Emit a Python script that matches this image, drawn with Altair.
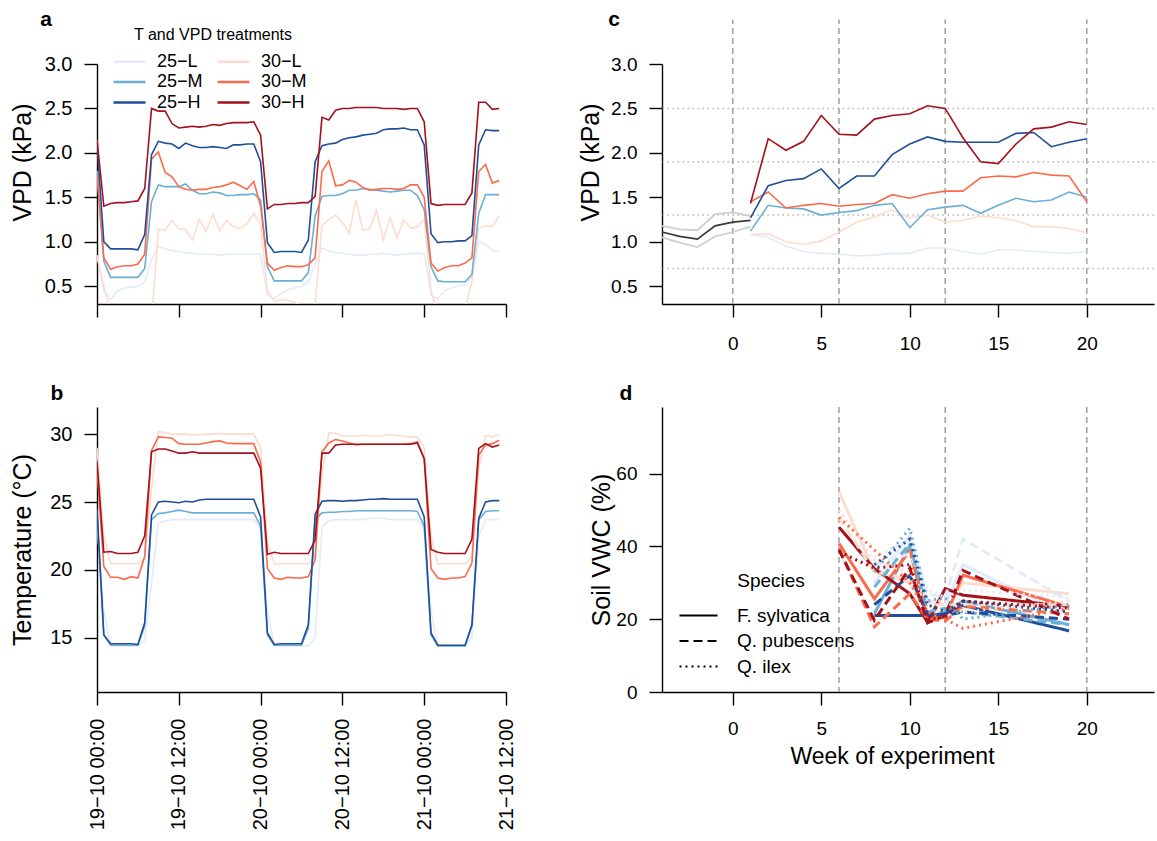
import altair as alt
import pandas as pd

FONT = "Liberation Sans"

# ---------------- shared categories ----------------
treatments = ["25−L", "25−M", "25−H", "30−L", "30−M", "30−H"]          # legend order
treatment_colors = ["#E3EBF8", "#6BAED6", "#1F4E9A", "#FDDCCD", "#FB6A4A", "#A3111A"]
draw_order = ["25−L", "30−L", "25−M", "30−M", "25−H", "30−H"]           # pale lines first
species = ["F. sylvatica", "Q. pubescens", "Q. ilex"]

# ---------------- panels a and b: hourly series ----------------
hours = list(range(60))
hour_ticks = [0, 12, 24, 36, 48, 60]
hour_tick_labels = ["19−10 00:00", "19−10 12:00", "20−10 00:00",
                    "20−10 12:00", "21−10 00:00", "21−10 12:00"]

vpd_25L = [0.85, 0.45, 0.35, 0.45, 0.48, 0.49, 0.50, 0.55, 0.80, 0.95, 0.92, 0.90, 0.89, 0.88, 0.87,
           0.86, 0.86, 0.86, 0.85, 0.86, 0.86, 0.86, 0.86, 0.86, 0.86, 0.40, 0.36, 0.42, 0.46, 0.48,
           0.50, 0.55, 0.75, 0.93, 0.90, 0.88, 0.87, 0.86, 0.85, 0.85, 0.86, 0.86, 0.87, 0.86, 0.85,
           0.86, 0.87, 0.87, 0.86, 0.40, 0.36, 0.45, 0.48, 0.50, 0.52, 0.60, 1.00, 0.97, 0.90, 0.89]
vpd_30L = [0.85, 0.50, 0.20, 0.20, 0.20, 0.20, 0.20, 0.15, 0.10, 1.14, 1.13, 1.24, 1.15, 1.14, 1.02,
           1.25, 1.12, 1.31, 1.12, 1.24, 1.17, 1.15, 1.20, 1.32, 1.20, 0.45, 0.33, 0.35, 0.34, 0.32,
           0.28, 0.20, 0.30, 1.18, 1.25, 1.30, 1.22, 1.10, 1.47, 1.13, 1.14, 1.35, 1.02, 1.27, 1.04,
           1.25, 1.15, 1.17, 1.25, 0.45, 0.20, 0.20, 0.20, 0.20, 0.25, 0.55, 1.15, 1.18, 1.17, 1.29]
vpd_25M = [1.80, 0.78, 0.60, 0.60, 0.60, 0.60, 0.60, 0.70, 1.45, 1.64, 1.62, 1.62, 1.62, 1.65, 1.58,
           1.54, 1.54, 1.56, 1.55, 1.52, 1.52, 1.53, 1.53, 1.54, 1.47, 0.72, 0.56, 0.56, 0.56, 0.56,
           0.56, 0.65, 1.29, 1.51, 1.52, 1.52, 1.54, 1.58, 1.58, 1.60, 1.59, 1.58, 1.57, 1.56, 1.57,
           1.58, 1.58, 1.52, 1.36, 0.72, 0.56, 0.55, 0.55, 0.55, 0.55, 0.63, 1.32, 1.53, 1.53, 1.53]
vpd_30M = [1.75, 0.82, 0.69, 0.72, 0.73, 0.73, 0.75, 0.86, 1.93, 2.01, 1.78, 1.73, 1.62, 1.59, 1.58,
           1.59, 1.59, 1.61, 1.62, 1.64, 1.67, 1.63, 1.59, 1.68, 1.40, 0.76, 0.68, 0.71, 0.73, 0.72,
           0.72, 0.74, 0.82, 1.79, 1.91, 1.63, 1.64, 1.69, 1.67, 1.61, 1.58, 1.59, 1.60, 1.60, 1.59,
           1.60, 1.64, 1.64, 1.50, 0.76, 0.67, 0.71, 0.73, 0.73, 0.76, 0.82, 1.79, 1.87, 1.66, 1.69]
vpd_25H = [2.10, 1.00, 0.92, 0.92, 0.92, 0.92, 0.91, 1.08, 1.98, 2.13, 2.11, 2.10, 2.05, 2.11, 2.08,
           2.06, 2.06, 2.07, 2.06, 2.05, 2.09, 2.09, 2.10, 2.10, 1.90, 0.99, 0.88, 0.89, 0.89, 0.89,
           0.88, 1.02, 1.90, 2.08, 2.10, 2.11, 2.15, 2.17, 2.18, 2.20, 2.21, 2.22, 2.26, 2.27, 2.27,
           2.28, 2.26, 2.26, 2.09, 1.09, 0.99, 1.00, 1.00, 1.01, 1.01, 1.07, 2.09, 2.26, 2.25, 2.25]
vpd_30H = [2.15, 1.40, 1.43, 1.44, 1.44, 1.45, 1.46, 1.60, 2.50, 2.47, 2.47, 2.33, 2.28, 2.29, 2.30,
           2.29, 2.30, 2.32, 2.31, 2.33, 2.34, 2.34, 2.34, 2.35, 2.20, 1.37, 1.42, 1.42, 1.43, 1.43,
           1.44, 1.44, 1.51, 2.40, 2.37, 2.48, 2.50, 2.50, 2.51, 2.51, 2.51, 2.51, 2.50, 2.50, 2.50,
           2.49, 2.50, 2.50, 2.35, 1.43, 1.41, 1.42, 1.42, 1.42, 1.42, 1.55, 2.57, 2.57, 2.49, 2.50]

temp_25L = [23.5, 17.0, 14.4, 14.4, 14.4, 14.4, 14.4, 14.8, 19.0, 23.5, 23.6, 23.7, 23.7, 23.7, 23.7,
            23.7, 23.7, 23.7, 23.7, 23.7, 23.7, 23.7, 23.7, 23.7, 23.0, 17.0, 14.4, 14.4, 14.4, 14.4,
            14.4, 14.4, 15.0, 23.2, 23.6, 23.7, 23.7, 23.7, 23.7, 23.7, 23.8, 23.8, 23.8, 23.7, 23.7,
            23.7, 23.7, 23.7, 23.0, 17.0, 14.4, 14.4, 14.4, 14.4, 14.4, 15.0, 22.5, 23.7, 23.7, 23.7]
temp_30L = [29.0, 22.5, 20.45, 20.45, 20.45, 20.45, 20.45, 20.8, 26.0, 30.2, 30.1, 30.0, 30.0, 30.0, 29.95,
            29.95, 30.0, 30.0, 30.05, 30.0, 30.0, 30.0, 30.0, 30.0, 29.0, 22.0, 20.45, 20.45, 20.45, 20.45,
            20.45, 20.45, 21.0, 27.0, 30.1, 30.05, 29.9, 29.85, 29.85, 29.9, 29.9, 29.85, 29.9, 29.95, 29.9,
            29.85, 29.8, 29.8, 29.0, 22.5, 20.45, 20.45, 20.45, 20.45, 20.45, 21.0, 27.5, 29.9, 29.8, 30.0]
temp_25M = [24.0, 15.2, 14.45, 14.45, 14.45, 14.45, 14.45, 15.85, 23.7, 24.15, 24.2, 24.3, 24.4, 24.3, 24.2,
            24.2, 24.2, 24.2, 24.2, 24.2, 24.2, 24.2, 24.2, 24.2, 23.2, 15.2, 14.45, 14.45, 14.45, 14.45,
            14.45, 15.7, 23.7, 24.2, 24.25, 24.25, 24.3, 24.3, 24.35, 24.35, 24.35, 24.35, 24.35, 24.35, 24.35,
            24.35, 24.35, 24.3, 23.2, 15.2, 14.4, 14.4, 14.4, 14.4, 14.4, 15.85, 23.7, 24.3, 24.35, 24.35]
temp_30M = [27.5, 20.25, 19.45, 19.45, 19.3, 19.5, 19.4, 21.0, 28.8, 29.8, 29.75, 29.7, 29.3, 29.25, 29.25,
            29.25, 29.35, 29.45, 29.5, 29.35, 29.3, 29.3, 29.3, 29.3, 27.95, 20.1, 19.4, 19.3, 19.45, 19.4,
            19.4, 19.5, 20.75, 28.7, 29.35, 29.6, 29.5, 29.35, 29.2, 29.25, 29.25, 29.25, 29.25, 29.25, 29.25,
            29.25, 29.3, 29.45, 28.2, 20.1, 19.4, 19.3, 19.4, 19.4, 19.5, 20.5, 28.45, 29.2, 29.3, 29.55]
temp_25H = [24.5, 15.2, 14.55, 14.55, 14.55, 14.55, 14.5, 16.1, 24.05, 25.0, 25.05, 25.0, 24.95, 25.05, 25.0,
            25.15, 25.2, 25.2, 25.2, 25.2, 25.2, 25.2, 25.2, 25.2, 23.9, 15.35, 14.5, 14.55, 14.55, 14.55,
            14.55, 15.95, 24.1, 25.05, 25.1, 25.1, 25.05, 25.1, 25.1, 25.15, 25.2, 25.2, 25.25, 25.2, 25.2,
            25.2, 25.2, 25.2, 23.9, 15.35, 14.45, 14.45, 14.45, 14.45, 14.45, 15.95, 23.8, 25.0, 25.1, 25.1]
temp_30H = [28.0, 21.3, 21.35, 21.2, 21.2, 21.2, 21.3, 22.5, 28.7, 28.9, 28.9, 28.75, 28.6, 28.6, 28.7,
            28.6, 28.6, 28.6, 28.6, 28.6, 28.6, 28.6, 28.6, 28.6, 27.5, 21.15, 21.3, 21.2, 21.2, 21.2,
            21.2, 21.2, 22.2, 28.6, 28.6, 29.2, 29.25, 29.25, 29.25, 29.25, 29.25, 29.25, 29.25, 29.25, 29.25,
            29.25, 29.25, 29.35, 28.2, 21.5, 21.3, 21.2, 21.2, 21.2, 21.2, 22.25, 28.95, 29.3, 29.05, 29.2]

# ---------------- panel c: weekly VPD ----------------
weeks_pre = [-4, -3, -2, -1, 0, 1]
pre_mean = [1.11, 1.06, 1.03, 1.18, 1.22, 1.24]
pre_high = [1.18, 1.14, 1.13, 1.31, 1.33, 1.29]
pre_low = [1.05, 0.99, 0.94, 1.06, 1.11, 1.17]

weeks_trt = list(range(1, 21))
week_vpd_25L = [1.08, 1.05, 0.95, 0.89, 0.87, 0.86, 0.84, 0.85, 0.87, 0.87, 0.93, 0.93, 0.89, 0.86, 0.91, 0.91, 0.89, 0.88, 0.87, 0.89]
week_vpd_30L = [1.08, 1.09, 1.00, 0.97, 1.01, 1.11, 1.22, 1.28, 1.36, 1.27, 1.30, 1.22, 1.24, 1.29, 1.27, 1.24, 1.17, 1.17, 1.15, 1.10]
week_vpd_25M = [1.12, 1.41, 1.38, 1.37, 1.30, 1.33, 1.35, 1.41, 1.43, 1.16, 1.36, 1.39, 1.41, 1.32, 1.41, 1.49, 1.45, 1.47, 1.56, 1.50]
week_vpd_30M = [1.45, 1.56, 1.38, 1.41, 1.43, 1.40, 1.42, 1.43, 1.53, 1.49, 1.54, 1.57, 1.57, 1.72, 1.74, 1.73, 1.78, 1.75, 1.74, 1.45]
week_vpd_25H = [1.27, 1.63, 1.69, 1.71, 1.82, 1.60, 1.74, 1.74, 1.98, 2.10, 2.18, 2.13, 2.12, 2.12, 2.12, 2.22, 2.23, 2.07, 2.12, 2.16]
week_vpd_30H = [1.43, 2.16, 2.03, 2.13, 2.42, 2.21, 2.20, 2.38, 2.42, 2.44, 2.53, 2.50, 2.17, 1.90, 1.88, 2.10, 2.27, 2.29, 2.35, 2.32]

vpd_targets = [0.7, 1.3, 1.9, 2.5]
phase_weeks_c = [0, 6, 12, 20]
phase_weeks_d = [6, 12, 20]
phase_span_c = [0.3, 3.5]   # VPD extent of the phase markers in panel c
week_ticks = [0, 5, 10, 15, 20]

# ---------------- panel d: soil VWC ----------------
weeks_vwc = [6, 8, 10, 11, 12, 13, 19]
vwc_fsylvatica = {
    "25−L": [None, 30, 43, 25, 24, 35, 21],
    "30−L": [55, 33, 30, 22, 22, 30, 27],
    "25−M": [None, 21.5, 40.3, 20, 22, 25, 18.5],
    "30−M": [40.8, 25.6, 38.9, 20.6, 20.4, 32.1, 23.4],
    "25−H": [None, 21.0, 21.0, 21.0, 21.5, 23.8, 16.8],
    "30−H": [45.3, 33.9, 27.0, 19.2, 28.4, 26.6, 23.5],
}
vwc_qpubescens = {
    "25−L": [None, 35, 38, 27, 26, 42, 25],
    "30−L": [48, 33, 31, 24, 24, 24, 24],
    "25−M": [None, 28.8, 40.8, 22, 23, 22, 18.5],
    "30−M": [39.4, 17.9, 27, 20, 19.5, 23.5, 21.5],
    "25−H": [None, 24, 32, 21.5, 21, 22, 20],
    "30−H": [39, 19.7, 34, 19, 21, 33.4, 20],
}
vwc_qilex = {
    "25−L": [None, 37, 42, 28, 26, 28, 26],
    "30−L": [50, 36, 33, 25, 25, 22, 25],
    "25−M": [None, 33, 45, 25, 26, 20, 24],
    "30−M": [48, 39, 30, 22, 20, 17.5, 23],
    "25−H": [None, 35, 42, 24, 22, 25, 22],
    "30−H": [38.5, 34, 35, 20, 20.5, 25, 23],
}

# ---------------- build tables ----------------
def hourly_table(series, name):
    rows = []
    for t in draw_order:
        vals = series[t]
        assert len(vals) == len(hours)
        for h, v in zip(hours, vals):
            rows.append({"hour": h, name: v, "treatment": t})
    return pd.DataFrame(rows)

df_a = hourly_table({"25−L": vpd_25L, "30−L": vpd_30L, "25−M": vpd_25M,
                     "30−M": vpd_30M, "25−H": vpd_25H, "30−H": vpd_30H}, "vpd")
df_b = hourly_table({"25−L": temp_25L, "30−L": temp_30L, "25−M": temp_25M,
                     "30−M": temp_30M, "25−H": temp_25H, "30−H": temp_30H}, "temp")

weekly = {"25−L": week_vpd_25L, "30−L": week_vpd_30L, "25−M": week_vpd_25M,
          "30−M": week_vpd_30M, "25−H": week_vpd_25H, "30−H": week_vpd_30H}
rows = []
for t in draw_order:
    for w, v in zip(weeks_trt, weekly[t]):
        rows.append({"week": w, "vpd": v, "treatment": t})
df_c = pd.DataFrame(rows)

rows = []
for lab, vals in [("low", pre_low), ("high", pre_high), ("mean", pre_mean)]:
    for w, v in zip(weeks_pre, vals):
        rows.append({"week": w, "vpd": v, "band": lab})
df_pre = pd.DataFrame(rows)

df_targets = pd.DataFrame({"vpd": vpd_targets})
df_phase_c = pd.DataFrame({"week": phase_weeks_c, "lo": phase_span_c[0], "hi": phase_span_c[1]})
df_phase_d = pd.DataFrame({"week": phase_weeks_d})

rows = []
for sp, table in zip(species, [vwc_fsylvatica, vwc_qpubescens, vwc_qilex]):
    for t in draw_order:
        for w, v in zip(weeks_vwc, table[t]):
            if v is not None:
                rows.append({"week": w, "vwc": v, "treatment": t, "species": sp})
df_d = pd.DataFrame(rows)

# ---------------- shared encodings ----------------
color_scale = alt.Scale(domain=treatments, range=treatment_colors)
label_expr = "[" + ",".join("'" + s + "'" for s in hour_tick_labels) + "][round(datum.value/12)]"
LEGEND_LINE = "M-2,0H2"   # long, flat legend key (keeps rows compact)


def letter(ch, dx, dy):
    return alt.Chart(pd.DataFrame({"panel": [ch]})).mark_text(
        font=FONT, fontSize=21, fontWeight="bold", align="center", baseline="middle", color="black"
    ).encode(text="panel:N", x=alt.value(dx), y=alt.value(dy))


vpd_values = [0.5, 1.0, 1.5, 2.0, 2.5, 3.0]

# ---------------- panel a ----------------
xa = alt.X("hour:Q", scale=alt.Scale(domain=[0, 60], nice=False, zero=False),
           axis=alt.Axis(values=hour_ticks, labels=False, title=None))
ya = alt.Y("vpd:Q", scale=alt.Scale(domain=[0.3, 3.0], nice=False, zero=False),
           axis=alt.Axis(values=vpd_values, format=".1f", title="VPD (kPa)", titleX=-75, titleY=98,
                         titleAngle=270, titleAlign="center", titleBaseline="middle",
                         labelPadding=12))
lines_a = alt.Chart(df_a).mark_line(strokeWidth=1.6, clip=True).encode(
    x=xa, y=ya,
    color=alt.Color("treatment:N", scale=color_scale,
                    legend=alt.Legend(title="T and VPD treatments", orient="none", legendX=23, legendY=-37,
                                      columns=2, columnPadding=9, rowPadding=1.5, symbolType=LEGEND_LINE,
                                      symbolSize=256, symbolStrokeWidth=2.5, labelFontSize=18,
                                      titleFontSize=16, titleFontWeight="normal", titleAnchor="middle",
                                      titlePadding=9, labelOffset=18, padding=0)),
)
panel_a = alt.layer(lines_a, letter("a", -51, -44)).properties(width=409, height=240)

# ---------------- panel b ----------------
xb = alt.X("hour:Q", scale=alt.Scale(domain=[0, 60], nice=False, zero=False),
           axis=alt.Axis(values=hour_ticks, labelExpr=label_expr, labelAngle=270, labelAlign="right",
                         labelBaseline="middle", labelPadding=13, title=None))
yb = alt.Y("temp:Q", scale=alt.Scale(domain=[11, 32], nice=False, zero=False),
           axis=alt.Axis(values=[15, 20, 25, 30], title="Temperature (°C)", titleX=-75, titleY=142.5,
                         titleAngle=270, titleAlign="center", titleBaseline="middle", labelPadding=12))
lines_b = alt.Chart(df_b).mark_line(strokeWidth=1.6, clip=True).encode(
    x=xb, y=yb, color=alt.Color("treatment:N", scale=color_scale, legend=None))
panel_b = alt.layer(lines_b, letter("b", -40, -13)).properties(width=409, height=285)

# ---------------- panel c ----------------
W2 = 492
week_domain = [-4, -4 + W2 / 17.7]
xc = alt.X("week:Q", scale=alt.Scale(domain=week_domain, nice=False, zero=False),
           axis=alt.Axis(values=week_ticks, title=None, labelPadding=17, labelFontSize=19))


def vpd_axis():
    return alt.Axis(values=vpd_values, format=".1f", title="VPD (kPa)", titleX=-72, titleY=98,
                    titleAngle=270, titleAlign="center", titleBaseline="middle",
                    labelPadding=12, labelFontSize=19)


vpd_scale_c = alt.Scale(domain=[0.3, 3.0], nice=False, zero=False)
yc = alt.Y("vpd:Q", scale=vpd_scale_c, axis=vpd_axis())
targets_c = alt.Chart(df_targets).mark_rule(color="#B5B5B5", strokeWidth=1.5, strokeDash=[1.5, 3.5]).encode(y=yc)
phase_c = alt.Chart(df_phase_c).mark_rule(color="#A0A0A0", strokeWidth=1.5, strokeDash=[6, 4]).encode(
    x=xc, y=alt.Y("lo:Q", scale=vpd_scale_c, axis=vpd_axis()), y2="hi:Q")
pre_grey = alt.Chart(df_pre).transform_filter("datum.band != 'mean'").mark_line(
    color="#CFCFCF", strokeWidth=1.8).encode(x=xc, y=yc, detail="band:N")
pre_black = alt.Chart(df_pre).transform_filter("datum.band == 'mean'").mark_line(
    color="#3A3A3A", strokeWidth=1.8).encode(x=xc, y=yc)
lines_c = alt.Chart(df_c).mark_line(strokeWidth=1.6).encode(
    x=xc, y=yc, color=alt.Color("treatment:N", scale=color_scale, legend=None))
panel_c = alt.layer(targets_c, phase_c, pre_grey, pre_black, lines_c, letter("c", -48, -44)).properties(
    width=W2, height=240)

# ---------------- panel d ----------------
xd = alt.X("week:Q", scale=alt.Scale(domain=week_domain, nice=False, zero=False),
           axis=alt.Axis(values=week_ticks, title="Week of experiment", titleX=230, titleY=64,
                         titleAlign="center", titleBaseline="middle", titleFontSize=23,
                         labelPadding=14, labelFontSize=19))
yd = alt.Y("vwc:Q", scale=alt.Scale(domain=[0, 78.3], nice=False, zero=False),
           axis=alt.Axis(values=[0, 20, 40, 60], title="Soil VWC (%)", titleX=-61, titleY=142.5,
                         titleAngle=270, titleAlign="center", titleBaseline="middle",
                         labelPadding=12, labelFontSize=19))
phase_d = alt.Chart(df_phase_d).mark_rule(color="#A0A0A0", strokeWidth=1.5, strokeDash=[6, 4]).encode(x=xd)
lines_d = alt.Chart(df_d).mark_line(strokeWidth=3).encode(
    x=xd, y=yd,
    color=alt.Color("treatment:N", scale=color_scale, legend=None),
    strokeDash=alt.StrokeDash("species:N",
                              scale=alt.Scale(domain=species, range=[[1, 0], [9, 5], [2, 4]]),
                              legend=alt.Legend(title="Species", orient="none", legendX=26, legendY=165,
                                                symbolType=LEGEND_LINE, symbolSize=361, symbolStrokeWidth=2,
                                                symbolStrokeColor="black", labelFontSize=19,
                                                titleFontSize=19, titleFontWeight="normal",
                                                titleAnchor="middle", titlePadding=14, labelOffset=28,
                                                rowPadding=4.5, padding=0)),
)
panel_d = alt.layer(phase_d, lines_d, letter("d", -36, -13)).properties(width=W2, height=285)

chart = alt.concat(
    panel_a, panel_c, panel_b, panel_d,
    columns=2,
    spacing={"row": 103, "column": 156},
    bounds="flush",
    align="each",
    padding={"left": 10, "top": 9, "right": 0, "bottom": 0},
).resolve_legend(color="independent", strokeDash="independent").configure(
    background="white", font=FONT
).configure_view(
    stroke=None
).configure_axis(
    grid=False, domainColor="black", tickColor="black", labelColor="black", titleColor="black",
    domainWidth=1.4, tickWidth=1.4, tickSize=13, labelFont=FONT, titleFont=FONT,
    labelFontSize=20, titleFontSize=25, titleFontWeight="normal", labelFlush=False, labelOverlap=False,
).configure_legend(
    labelFont=FONT, titleFont=FONT, labelColor="black", titleColor="black"
)

chart.save("out.html", embed_options={"renderer": "svg", "actions": False})
